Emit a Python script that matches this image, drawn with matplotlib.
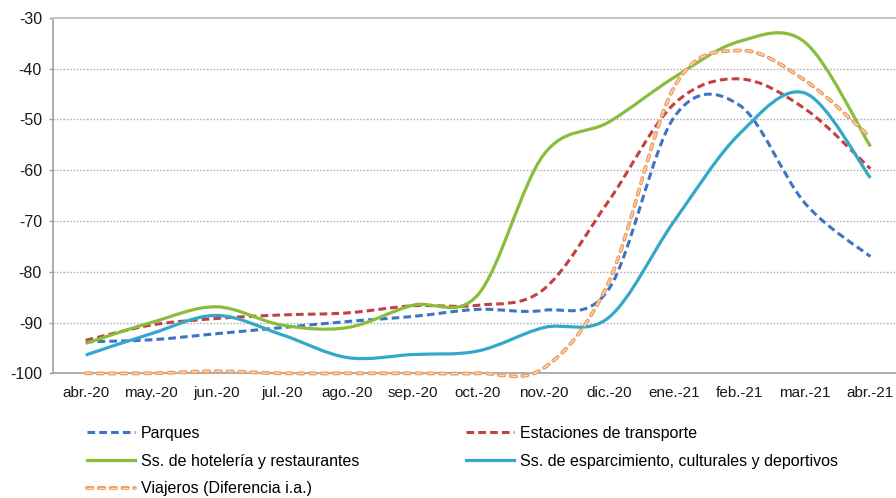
import numpy as np
import matplotlib
matplotlib.use('Agg')
import matplotlib.pyplot as plt
from matplotlib.path import Path
from matplotlib.patches import PathPatch
from matplotlib.lines import Line2D

plt.rcParams['font.family'] = ['Liberation Sans', 'DejaVu Sans']
plt.rcParams['lines.scale_dashes'] = False

# Data (monthly values)
months = ['abr.-20', 'may.-20', 'jun.-20', 'jul.-20', 'ago.-20', 'sep.-20', 'oct.-20',
          'nov.-20', 'dic.-20', 'ene.-21', 'feb.-21', 'mar.-21', 'abr.-21']
parques = [-93.8, -93.4, -92.2, -91.0, -89.8, -88.8, -87.4, -87.6, -83.4, -49.5, -47.2, -66.5, -77.0]
estaciones = [-93.5, -90.5, -89.2, -88.5, -88.1, -86.7, -86.6, -83.5, -66.0, -46.9, -42.0, -47.9, -59.7]
hosteleria = [-94.1, -90.0, -86.9, -90.5, -91.0, -86.6, -84.5, -57.0, -50.5, -41.7, -34.6, -34.8, -55.3]
esparcimiento = [-96.4, -92.2, -88.6, -92.4, -96.9, -96.3, -95.6, -91.0, -89.0, -70.0, -52.8, -44.8, -61.5]
viajeros = [-100, -100, -99.6, -100, -100, -100, -100, -99.0, -82.0, -43.6, -36.4, -42.3, -53.5]

labels = ['Parques', 'Estaciones de transporte', 'Ss. de hotelería y restaurantes',
          'Ss. de esparcimiento, culturales y deportivos', 'Viajeros (Diferencia i.a.)']
yticks = [-100, -90, -80, -70, -60, -50, -40, -30]


def smooth_path(values):
    # Excel style smoothed line: cubic Bezier segments with Catmull-Rom handles
    y = np.asarray(values, dtype=float)
    x = np.arange(len(y), dtype=float)
    n = len(y)
    verts = [(x[0], y[0])]
    codes = [Path.MOVETO]
    for i in range(n - 1):
        a = max(i - 1, 0)
        b = min(i + 2, n - 1)
        c1 = (x[i] + (x[i + 1] - x[a]) / 6, y[i] + (y[i + 1] - y[a]) / 6)
        c2 = (x[i + 1] - (x[b] - x[i]) / 6, y[i + 1] - (y[b] - y[i]) / 6)
        verts += [c1, c2, (x[i + 1], y[i + 1])]
        codes += [Path.CURVE4] * 3
    return Path(verts, codes)


fig = plt.figure(figsize=(8.96, 4.98), dpi=100)
ax = fig.add_axes([0.0592, 0.2504, 0.9487, 0.7135])

ax.set_xlim(-0.5, len(months) - 0.5)
ax.set_ylim(-100, -30)

for v in yticks[1:-1]:
    ax.axhline(v, color='#b4b4b4', lw=1.0, linestyle=(0, (1.2, 1.2)), zorder=1)

dash = (0, (5.5, 3.0))
odash = (0, (4.0, 4.5))
blue = '#3e74c4'
red = '#c3423f'
green = '#8abd3c'
cyan = '#33a8c9'
orange = '#ee9c5e'
orange_in = '#f9d6b8'

series = [
    (parques, dict(edgecolor=blue, lw=2.2, linestyle=dash)),
    (estaciones, dict(edgecolor=red, lw=2.2, linestyle=dash)),
    (hosteleria, dict(edgecolor=green, lw=2.3, linestyle='-')),
    (esparcimiento, dict(edgecolor=cyan, lw=2.3, linestyle='-')),
]
for vals, style in series:
    ax.add_patch(PathPatch(smooth_path(vals), fill=False, zorder=3,
                           capstyle='butt', joinstyle='round', **style))

# orange "hollow" dashes: thick outer line with a light inner line on top
# (not clipped, like Excel, so the small dip under -100 stays visible)
vpath = smooth_path(viajeros)
ax.add_patch(PathPatch(vpath, fill=False, edgecolor=orange, lw=2.8, clip_on=False,
                       linestyle=odash, capstyle='round', zorder=4))
ax.add_patch(PathPatch(vpath, fill=False, edgecolor=orange_in, lw=1.0, clip_on=False,
                       linestyle=odash, capstyle='round', zorder=5))

ax.set_xticks(range(len(months)))
ax.set_xticklabels(months, fontsize=11, color='#1a1a1a')
ax.set_yticks(yticks)
ax.set_yticklabels([str(v) for v in yticks], fontsize=11.5, color='#1a1a1a')
ax.tick_params(axis='x', length=0, pad=9)
ax.tick_params(axis='y', length=3, width=1, color='#a0a0a0', pad=5)

for side in ['left', 'bottom']:
    ax.spines[side].set_color('#a0a0a0')
    ax.spines[side].set_linewidth(1.2)
ax.spines['top'].set_color('#c8c8c8')
ax.spines['top'].set_linewidth(1.5)
ax.spines['right'].set_visible(False)

h_par = Line2D([], [], color=blue, lw=2.2, linestyle=dash)
h_est = Line2D([], [], color=red, lw=2.2, linestyle=dash)
h_hos = Line2D([], [], color=green, lw=2.3)
h_esp = Line2D([], [], color=cyan, lw=2.3)
h_via = (Line2D([], [], color=orange, lw=2.8, linestyle=odash, dash_capstyle='round'),
         Line2D([], [], color=orange_in, lw=1.0, linestyle=odash, dash_capstyle='round'))

handles = [h_par, h_hos, h_via, h_est, h_esp]
names = [labels[0], labels[2], labels[4], labels[1], labels[3]]
fig.legend(handles, names, ncol=2, loc='upper left', bbox_to_anchor=(0.097, 0.145),
           frameon=False, fontsize=11.5, handlelength=3.0, handletextpad=0.4,
           columnspacing=6.65, labelspacing=0.8, borderaxespad=0, borderpad=0)

fig.savefig('out.png', dpi=100)
